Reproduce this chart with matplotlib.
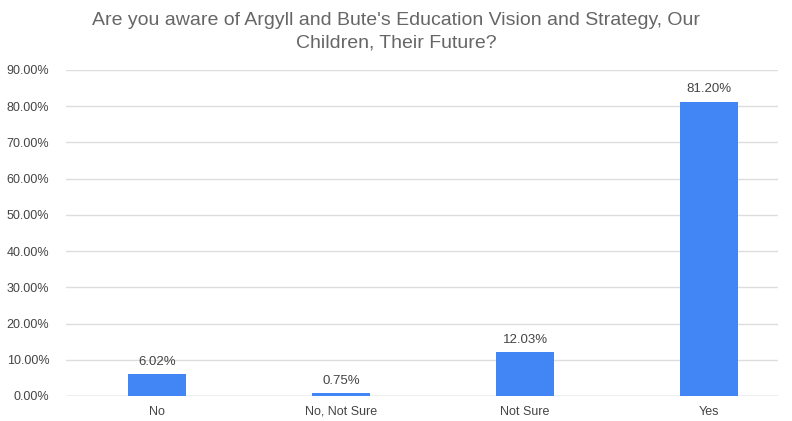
import matplotlib
matplotlib.use("Agg")
import matplotlib.pyplot as plt
from matplotlib.ticker import FuncFormatter

categories = ["No", "No, Not Sure", "Not Sure", "Yes"]
values = [6.02, 0.75, 12.03, 81.20]
yticks = [0, 10, 20, 30, 40, 50, 60, 70, 80, 90]

plt.rcParams["font.family"] = ["Liberation Sans", "DejaVu Sans"]

fig = plt.figure(figsize=(7.92, 4.21), dpi=100)
ax = fig.add_axes([66 / 792, 1 - 396 / 421, 712 / 792, 326 / 421])

x = list(range(len(categories)))
ax.bar(x, values, width=0.315, color="#4285F4", zorder=3)

for xi, v in zip(x, values):
    ax.text(xi, v + 1.8, f"{v:.2f}%", ha="center", va="bottom",
            fontsize=9.5, color="#444444")

ax.set_xlim(-0.495, 3.375)
ax.set_ylim(0, 90)
ax.set_yticks(yticks)
ax.yaxis.set_major_formatter(FuncFormatter(lambda v, p: f"{v:.2f}%"))
ax.set_xticks(x)
ax.set_xticklabels(categories)
ax.tick_params(axis="both", length=0, labelsize=9, labelcolor="#444444")
ax.tick_params(axis="y", pad=12)
ax.tick_params(axis="x", pad=7)
ax.grid(axis="y", color="#dddddd", linewidth=1, zorder=0)
for s in ax.spines.values():
    s.set_visible(False)
ax.axhline(0, color="#cccccc", linewidth=1, zorder=2)

fig.text(0.5, 1 - 31.5 / 421,
         "Are you aware of Argyll and Bute's Education Vision and Strategy, Our\nChildren, Their Future?",
         ha="center", va="center", fontsize=14, color="#666666", linespacing=1.4)

fig.savefig("out.png", dpi=100)
